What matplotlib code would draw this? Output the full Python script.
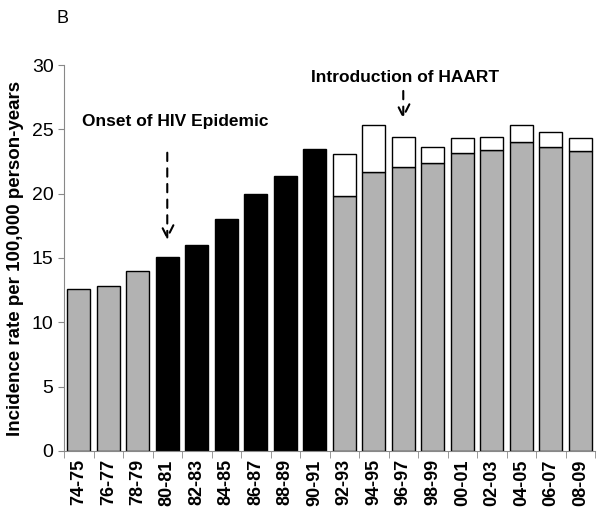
import numpy as np
import matplotlib.pyplot as plt

plt.rcParams['font.family'] = ['Liberation Sans', 'DejaVu Sans']

periods = ["74-75", "76-77", "78-79", "80-81", "82-83", "84-85", "86-87", "88-89",
           "90-91", "92-93", "94-95", "96-97", "98-99", "00-01", "02-03", "04-05",
           "06-07", "08-09"]
# base (gray / black) rates
base = [12.6, 12.8, 14.0, 15.1, 16.0, 18.0, 20.0, 21.4, 23.5,
        19.8, 21.7, 22.1, 22.4, 23.2, 23.4, 24.0, 23.6, 23.3]
# extra part on top (white), only from 92-93 on
extra = [0, 0, 0, 0, 0, 0, 0, 0, 0,
         3.3, 3.6, 2.3, 1.2, 1.1, 1.0, 1.3, 1.2, 1.0]
hiv_era = ["80-81", "82-83", "84-85", "86-87", "88-89", "90-91"]

x = np.arange(len(periods))
colors = ['black' if p in hiv_era else '#b2b2b2' for p in periods]

fig = plt.figure(figsize=(6, 5.16), dpi=100)
ax = fig.add_axes([0.1067, 0.126, 0.885, 0.748])

ax.bar(x, base, width=0.77, color=colors, edgecolor='black', linewidth=1.0)
top_idx = [i for i, e in enumerate(extra) if e > 0]
ax.bar(x[top_idx], [extra[i] for i in top_idx], bottom=[base[i] for i in top_idx],
       width=0.77, color='white', edgecolor='black', linewidth=1.0)

ax.set_xlim(-0.5, len(periods) - 0.5)
ax.set_ylim(0, 30)
ax.set_yticks(range(0, 31, 5))
ax.tick_params(axis='y', labelsize=14, length=4, color='#888888', direction='out')
ax.set_xticks(x)
ax.set_xticklabels(periods, rotation=90, fontweight='bold', fontsize=13)
ax.set_xticks(np.arange(-0.5, len(periods), 1), minor=True)
ax.tick_params(axis='x', which='major', length=0, pad=6)
ax.tick_params(axis='x', which='minor', length=5, color='#888888')

for s in ['top', 'right']:
    ax.spines[s].set_visible(False)
for s in ['left', 'bottom']:
    ax.spines[s].set_color('#888888')

ax.set_ylabel("Incidence rate per 100,000 person-years", fontweight='bold', fontsize=13.5,
              labelpad=6)

# annotations
i_hiv = periods.index("80-81")
ax.text(i_hiv + 0.27, 25.6, "Onset of HIV Epidemic", ha='center', va='center',
        fontweight='bold', fontsize=12.5)
ax.annotate("", xy=(i_hiv, 16.2), xytext=(i_hiv, 23.4),
            arrowprops=dict(arrowstyle='->', linestyle=(0, (4, 3.5)), lw=1.5,
                            color='black', mutation_scale=22))
i_haart = periods.index("96-97")
ax.text(i_haart + 0.05, 29.0, "Introduction of HAART", ha='center', va='center',
        fontweight='bold', fontsize=12.5)
ax.annotate("", xy=(i_haart, 25.6), xytext=(i_haart, 28.2),
            arrowprops=dict(arrowstyle='->', linestyle=(0, (4, 3.5)), lw=1.5,
                            color='black', mutation_scale=22))

fig.text(0.095, 0.965, "B", fontsize=13, va='center')

fig.savefig("out.png", dpi=100)
